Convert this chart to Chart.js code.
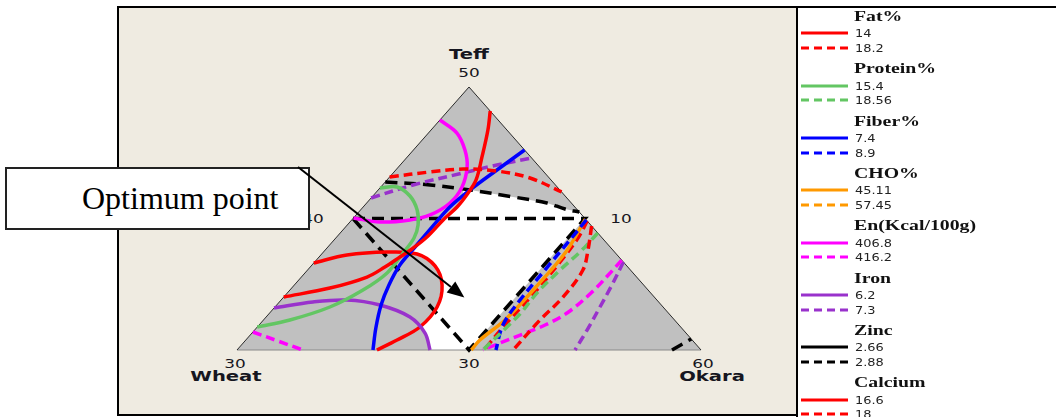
<!DOCTYPE html>
<html>
<head>
<meta charset="utf-8">
<title>Overlaid contour plot</title>
<script src="https://cdn.jsdelivr.net/npm/chart.js@4.4.1/dist/chart.umd.min.js"></script>
<style>
  html, body { margin: 0; padding: 0; width: 1056px; height: 417px; overflow: hidden; background: #fff; }
  body { position: relative; }
  #panel { position: absolute; left: 117px; top: 6px; width: 681px; height: 410px; background: #efebe1;
           border-top: 2px solid #000; border-left: 2px solid #000; border-bottom: 2px solid #000; box-sizing: border-box; }
  #legendBox { position: absolute; left: 796px; top: 6px; width: 260px; height: 411px; background: #fff;
               border-top: 2px solid #000; border-left: 2px solid #000; box-sizing: border-box; }
  #chart { position: absolute; left: 0; top: 0; }
  .lbl { position: absolute; font-family: "DejaVu Sans", Verdana, sans-serif; color: #161620; white-space: nowrap;
         transform-origin: center center; line-height: 16px; height: 16px; }
  .lbl.name { font-weight: bold; font-size: 14.5px; }
  .lbl.tick { font-size: 12.5px; }
  .lg { position: absolute; white-space: nowrap; transform-origin: left center; line-height: 16px; height: 16px; }
  .lg.title { font-family: "Liberation Serif", "Times New Roman", serif; font-weight: bold; font-size: 15px; color: #111; transform: scaleX(1.32); }
  .lg.val { font-family: "DejaVu Sans", Verdana, sans-serif; font-size: 10.5px; color: #222; transform: scaleX(1.23); }
  #optBox { position: absolute; left: 5px; top: 167px; width: 305px; height: 63px; background: #fff;
            border: 2px solid #222; box-sizing: border-box; z-index: 3; }
  #optBox span { position: absolute; left: 75px; top: 0; line-height: 58px;
                 font-family: "Liberation Serif", "Times New Roman", serif; font-size: 32px; color: #000; }
  #arrow { position: absolute; left: 0; top: 0; z-index: 4; }
</style>
</head>
<body>
<div id="panel"></div>
<div id="legendBox"></div>
<div id="labels"></div>
<canvas id="chart" width="1056" height="417"></canvas>
<div id="optBox"><span>Optimum point</span></div>
<svg id="arrow" width="1056" height="417"></svg>
<div id="legend"></div>

<script>
'use strict';

// Mixture region: Teff 30-50, Wheat 10-30, Okara 40-60 (sum = 100)
var teffLow = 30;
var okaraLow = 40;
var span = 20;

// Contour points read as [Teff, Okara]; Wheat = 100 - Teff - Okara
var fatLow = [[48.17, 41.83], [46.73, 42.45], [44.68, 43.22], [42.93, 43.84], [41.94, 43.99], [40.87, 44.05],
  [39.89, 43.94], [38.59, 43.89], [37.68, 43.70], [37.07, 43.49], [36.31, 43.22], [35.55, 42.83], [34.71, 41.65], [34.03, 40]];
var fatHighTop = [[43.16, 40], [43.54, 41.55], [43.76, 42.86], [43.61, 44.40], [43.08, 46.09], [42.02, 47.98]];
var fatHighRight = [[39.43, 50.57], [37.60, 51.33], [36.08, 51.87], [34.03, 52.04], [32.28, 51.92], [30, 51.90]];
var proteinLow = [[42.32, 40], [42.40, 40.70], [41.71, 41.60], [40.65, 42.44], [39.51, 43.05], [38.52, 43.37],
  [37.38, 43.47], [35.86, 43.54], [34.56, 43.15], [33.27, 42.37], [32.28, 41.14], [31.75, 40]];
var proteinHigh = [[38.90, 51.10], [37.60, 51.07], [36.08, 50.88], [34.33, 50.76], [32.81, 50.83], [31.75, 50.76], [30, 50.60]];
var fiberLow = [[45.21, 44.79], [43.69, 44.36], [42.17, 43.96], [40.87, 43.74], [39.35, 43.73], [37.83, 43.76],
  [36.46, 43.79], [34.94, 44.08], [33.42, 44.50], [31.67, 45.15], [30, 45.86]];
var fiberHigh = [[39.89, 50.11], [38.37, 50.17], [36.08, 50.23], [33.80, 50.30], [31.90, 50.51], [30, 51.16]];
var choLow = [[39.96, 50.04], [37.45, 50.45], [34.79, 50.49], [32.28, 50.41], [30.76, 50.09], [30, 50.10]];
var energyLow = [[47.49, 40], [46.50, 41.23], [45.21, 42.22], [43.92, 42.96], [42.40, 43.50], [41.18, 43.59],
  [40.27, 43.19], [39.89, 42.51], [39.73, 41.30], [40.04, 40]];
var energyHighLeft = [[31.37, 40], [30.68, 41.43], [30, 42.84]];
var energyHighRight = [[36.84, 53.16], [36.08, 53.16], [34.41, 53.10], [32.81, 52.82], [31.90, 52.33],
  [31.22, 51.72], [30.53, 51.07], [30, 50.60]];
var ironLow = [[33.19, 40], [33.65, 41.45], [33.80, 42.84], [33.42, 44.45], [32.51, 46.20], [31.29, 47.46], [30, 48.32]];
var ironHighTop = [[41.56, 40], [42.55, 41.31], [43.46, 43.01], [44.07, 44.17], [44.60, 45.40]];
var ironHighRight = [[36.69, 53.31], [34.94, 53.69], [33.27, 54.01], [31.52, 54.33], [30, 54.57]];
var zincHighTop = [[42.78, 40], [42.55, 42.05], [42.17, 43.96], [41.64, 46.08], [41.18, 47.77], [40.72, 48.78], [40.49, 49.51]];
var zincHighCorner = [[30, 58.75], [30.84, 59.16]];
var calciumLow = [[36.62, 40], [37.22, 41.13], [37.45, 42.74], [37.30, 44.11], [36.39, 45.34], [34.94, 46.37],
  [33.27, 46.99], [31.75, 47.01], [30.76, 46.52], [30, 46.03]];
var calciumHigh = [[39.81, 50.19], [38.52, 50.44], [36.69, 50.58], [34.41, 50.64], [31.90, 50.60], [30, 50.65]];

// Teff <= 40, Wheat <= 20, Okara <= 50 sub-region
var innerBounds = [[40, 40], [40, 50], [30, 50], [40, 40]];

// feasible (white) area where all responses are within limits
var feasible = [[42.17, 43.66], [42.17, 43.96], [41.64, 46.08], [41.18, 47.77], [40.72, 48.78], [40.49, 49.51],
  [40, 50], [30, 50], [30, 48.32], [31.29, 47.46], [31.75, 47.01], [33.27, 46.99], [34.94, 46.37], [36.39, 45.34],
  [37.30, 44.11], [37.38, 43.47], [37.68, 43.70], [38.59, 43.89], [39.89, 43.94], [40.87, 44.05], [41.79, 43.85]];

var simplex = [[50, 40], [30, 40], [30, 60]];
var optimumPoint = [34.0, 47.8];

// legend
var responses = ['Fat%', 'Protein%', 'Fiber%', 'CHO%', 'En(Kcal/100g)', 'Iron', 'Zinc', 'Calcium'];
var lowLevels = ['14', '15.4', '7.4', '45.11', '406.8', '6.2', '2.66', '16.6'];
var highLevels = ['18.2', '18.56', '8.9', '57.45', '416.2', '7.3', '2.88', '18'];
var responseColors = ['#ff0000', '#63c663', '#0000ff', '#ff9900', '#ff00ff', '#9932cc', '#000000', '#ff0000'];

// triangle placement on the page
var triLeft = 237, triRight = 701, triTop = 87, triBottom = 350;
var pageW = 1056, pageH = 417;
var unitX = triRight - triLeft, unitY = triBottom - triTop;

function toXY(p) {
  var t = (p[0] - teffLow) / span;
  var o = (p[1] - okaraLow) / span;
  return { x: o + t / 2, y: t };
}

function contour(points, color, dashed) {
  return {
    data: points.map(toXY),
    showLine: true,
    borderColor: color,
    borderWidth: 3.5,
    borderDash: dashed ? [9, 5] : [],
    borderCapStyle: 'butt',
    tension: 0.35,
    pointRadius: 0,
    fill: false,
    order: 0
  };
}

function edge(points, color) {
  return {
    data: points.map(toXY),
    showLine: true,
    borderColor: color,
    borderWidth: 1,
    tension: 0,
    pointRadius: 0,
    fill: false,
    order: 8
  };
}

var zincDash = contour(zincHighTop, '#000000', true);
zincDash.borderDash = [12, 7];
var zincCorner = contour(zincHighCorner, '#000000', true);
zincCorner.borderDash = [12, 7];
var bounds = contour(innerBounds, '#000000', true);
bounds.tension = 0;
bounds.borderDash = [12, 7];
bounds.order = 1;

var datasets = [
  contour(fatLow, '#ff0000', false),
  contour(fatHighTop, '#ff0000', true),
  contour(fatHighRight, '#ff0000', true),
  contour(proteinLow, '#63c663', false),
  contour(proteinHigh, '#63c663', true),
  contour(fiberLow, '#0000ff', false),
  contour(fiberHigh, '#0000ff', true),
  contour(choLow, '#ff9900', false),
  contour(energyLow, '#ff00ff', false),
  contour(energyHighLeft, '#ff00ff', true),
  contour(energyHighRight, '#ff00ff', true),
  contour(ironLow, '#9932cc', false),
  contour(ironHighTop, '#9932cc', true),
  contour(ironHighRight, '#9932cc', true),
  zincDash,
  zincCorner,
  contour(calciumLow, '#ff0000', false),
  contour(calciumHigh, '#ff0000', true),
  bounds,
  edge([simplex[1], simplex[0], simplex[2]], '#2a2a2a'),
  edge([simplex[1], simplex[2]], '#8a8a8a')
];

// grey design region and white feasible area, painted under the contours
var regionFill = {
  id: 'regionFill',
  beforeDatasetsDraw: function (chart) {
    var ctx = chart.ctx;
    var sx = chart.scales.x, sy = chart.scales.y;
    function poly(points, color) {
      ctx.beginPath();
      points.forEach(function (p, i) {
        var q = toXY(p);
        var px = sx.getPixelForValue(q.x), py = sy.getPixelForValue(q.y);
        if (i === 0) { ctx.moveTo(px, py); } else { ctx.lineTo(px, py); }
      });
      ctx.closePath();
      ctx.fillStyle = color;
      ctx.fill();
    }
    ctx.save();
    poly(simplex, '#c0c0c0');
    poly(feasible, '#ffffff');
    ctx.restore();
  }
};

var xMin = -triLeft / unitX;
var xMax = xMin + pageW / unitX;
var yMax = 1 + triTop / unitY;
var yMin = yMax - pageH / unitY;

var chart = new Chart(document.getElementById('chart'), {
  type: 'scatter',
  data: { datasets: datasets },
  plugins: [regionFill],
  options: {
    responsive: false,
    animation: false,
    devicePixelRatio: 1,
    events: [],
    layout: { padding: 0 },
    plugins: { legend: { display: false }, tooltip: { enabled: false } },
    scales: {
      x: { type: 'linear', display: false, min: xMin, max: xMax },
      y: { type: 'linear', display: false, min: yMin, max: yMax }
    }
  }
});

function pix(p) {
  var q = toXY(p);
  return [chart.scales.x.getPixelForValue(q.x), chart.scales.y.getPixelForValue(q.y)];
}

// vertex and tick labels, placed from the mixture coordinates
var axisLabels = [
  { text: 'Teff', at: [50, 40], dx: 0, dy: -33, cls: 'name' },
  { text: '50', at: [50, 40], dx: 0, dy: -14, cls: 'tick' },
  { text: '40', at: [40, 40], dx: -40, dy: 0, cls: 'tick' },
  { text: '10', at: [40, 50], dx: 36, dy: 0, cls: 'tick' },
  { text: '30', at: [30, 40], dx: -2, dy: 14, cls: 'tick' },
  { text: 'Wheat', at: [30, 40], dx: -11, dy: 26, cls: 'name' },
  { text: '30', at: [30, 50], dx: 0, dy: 14, cls: 'tick' },
  { text: '60', at: [30, 60], dx: 2, dy: 14, cls: 'tick' },
  { text: 'Okara', at: [30, 60], dx: 11, dy: 26, cls: 'name' }
];

var labelBox = document.getElementById('labels');
axisLabels.forEach(function (l) {
  var p = pix(l.at);
  var d = document.createElement('div');
  d.className = 'lbl ' + l.cls;
  d.textContent = l.text;
  d.style.left = (p[0] + l.dx) + 'px';
  d.style.top = (p[1] + l.dy) + 'px';
  d.style.transform = 'translate(-50%, -50%) scaleX(1.35)';
  labelBox.appendChild(d);
});

// arrow from the note box to the optimum point
var tip = pix(optimumPoint);
var start = [298, 167];
var vx = tip[0] - start[0], vy = tip[1] - start[1];
var len = Math.sqrt(vx * vx + vy * vy);
var ux = vx / len, uy = vy / len;
var headLen = 17, headHalf = 7;
var bx = tip[0] - ux * headLen, by = tip[1] - uy * headLen;
var svg = document.getElementById('arrow');
svg.innerHTML =
  '<line x1="' + start[0] + '" y1="' + start[1] + '" x2="' + bx + '" y2="' + by + '" stroke="#000" stroke-width="2"/>' +
  '<polygon fill="#000" points="' + tip[0] + ',' + tip[1] + ' ' +
  (bx - uy * headHalf) + ',' + (by + ux * headHalf) + ' ' +
  (bx + uy * headHalf) + ',' + (by - ux * headHalf) + '"/>';

// legend
var legend = document.getElementById('legend');
function legendText(cls, text, x, cy) {
  var d = document.createElement('div');
  d.className = 'lg ' + cls;
  d.textContent = text;
  d.style.left = x + 'px';
  d.style.top = (cy - 8) + 'px';
  legend.appendChild(d);
}
function legendLine(color, dashed, cy) {
  var s = document.createElementNS('http://www.w3.org/2000/svg', 'svg');
  s.setAttribute('width', '48');
  s.setAttribute('height', '6');
  s.style.position = 'absolute';
  s.style.left = '801px';
  s.style.top = (cy - 3) + 'px';
  s.innerHTML = '<line x1="0" y1="3" x2="47" y2="3" stroke="' + color + '" stroke-width="3"' +
    (dashed ? ' stroke-dasharray="8 5"' : '') + '/>';
  legend.appendChild(s);
}
for (var i = 0; i < responses.length; i++) {
  var cy = 16 + i * 52.33;
  legendText('title', responses[i], 854, cy);
  legendLine(responseColors[i], false, cy + 17.2);
  legendText('val', lowLevels[i], 855, cy + 17.2);
  legendLine(responseColors[i], true, cy + 32);
  legendText('val', highLevels[i], 855, cy + 32);
}
</script>
</body>
</html>
